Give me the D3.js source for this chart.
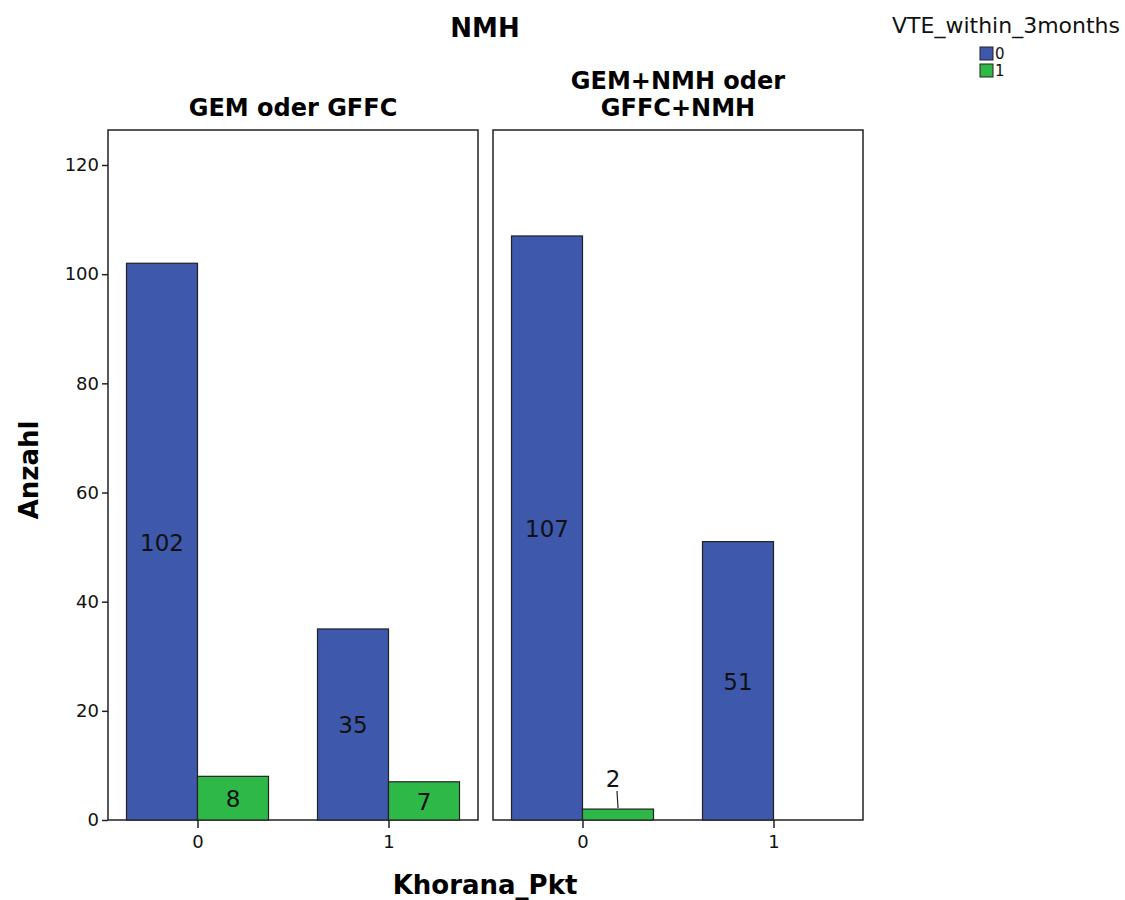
<!DOCTYPE html>
<html><head><meta charset="utf-8">
<script src="https://cdn.jsdelivr.net/npm/d3@7"></script>
<style>body{margin:0;background:#fff;} text{font-family:"DejaVu Sans",sans-serif;}</style>
</head><body>
<svg id="chart" width="1125" height="900"></svg>
<script>
const panels = [["GEM oder GFFC"], ["GEM+NMH oder", "GFFC+NMH"]];
const khorana = ["0", "1"];
const vteGroups = ["0", "1"];
// values[panel][khorana][vte]
const panel1Values = [[102, 8], [35, 7]];
const panel2Values = [[107, 2], [51, 0]];
const allValues = [panel1Values, panel2Values];
const yTicks = [0, 20, 40, 60, 80, 100, 120];
const colors = ["#3E58AC", "#2EB848"];

const svg = d3.select("#chart");
const plotTop = 130, plotBottom = 820;
const panelX = [108, 493], panelW = 370;

const y = d3.scaleLinear().domain([0, 120]).range([plotBottom, 165]);
const x = d3.scalePoint().domain(khorana).range([0, panelW]).padding(0.4686);
const barW = 71;

svg.append("text").attr("x", 485).attr("y", 37).attr("text-anchor", "middle")
  .attr("font-size", 26).attr("font-weight", "bold").text("NMH");

panels.forEach((lab, pi) => {
  const g = svg.append("g").attr("transform", `translate(${panelX[pi]},0)`);
  g.append("rect").attr("x", 0).attr("y", plotTop).attr("width", panelW).attr("height", plotBottom - plotTop)
    .attr("fill", "none").attr("stroke", "#222").attr("stroke-width", 1.5);
  const t = g.append("text").attr("x", panelW / 2).attr("text-anchor", "middle")
    .attr("font-size", 24).attr("font-weight", "bold");
  lab.forEach((l, i) => {
    t.append("tspan").attr("x", panelW / 2).attr("y", 116 - (lab.length - 1 - i) * 27).text(l);
  });
  const vals = allValues[pi];
  khorana.forEach((k, ki) => {
    vteGroups.forEach((v, vi) => {
      const val = vals[ki][vi];
      if (val === 0) return;
      const bx = x(k) + (vi === 0 ? -barW : 0);
      g.append("rect").attr("x", bx).attr("y", y(val)).attr("width", barW)
        .attr("height", y(0) - y(val)).attr("fill", colors[vi]).attr("stroke", "#222").attr("stroke-width", 1.2);
      const cx = bx + barW / 2;
      if (y(0) - y(val) > 20) {
        g.append("text").attr("x", cx).attr("y", (y(val) + y(0)) / 2 + 9).attr("text-anchor", "middle")
          .attr("font-size", 23).attr("fill", "#111").text(val);
      } else {
        g.append("line").attr("x1", cx).attr("x2", cx - 1).attr("y1", y(val) - 1).attr("y2", y(val) - 18)
          .attr("stroke", "#222").attr("stroke-width", 1.2);
        g.append("text").attr("x", cx - 5).attr("y", y(val) - 22).attr("text-anchor", "middle")
          .attr("font-size", 23).attr("fill", "#111").text(val);
      }
    });
  });
  const xa = g.append("g").attr("transform", `translate(0,${plotBottom})`)
    .call(d3.axisBottom(x).tickSize(8).tickSizeOuter(0));
  xa.select(".domain").remove();
  xa.selectAll("line").attr("stroke", "#222").attr("stroke-width", 1.5);
  xa.selectAll("text").attr("font-size", 18).attr("fill", "#111").attr("dy", "0.95em")
    .style("font-family", '"DejaVu Sans",sans-serif');
});

const ya = svg.append("g").attr("transform", `translate(${panelX[0]},0)`)
  .call(d3.axisLeft(y).tickValues(yTicks).tickSize(6).tickSizeOuter(0));
ya.select(".domain").remove();
ya.selectAll("line").attr("stroke", "#222").attr("stroke-width", 1.5);
ya.selectAll("text").attr("font-size", 18).attr("fill", "#111").style("font-family", '"DejaVu Sans",sans-serif');

svg.append("text").attr("transform", "translate(38,470) rotate(-90)").attr("text-anchor", "middle")
  .attr("font-size", 26).attr("font-weight", "bold").text("Anzahl");
svg.append("text").attr("x", 485).attr("y", 894).attr("text-anchor", "middle")
  .attr("font-size", 26).attr("font-weight", "bold").text("Khorana_Pkt");

svg.append("text").attr("x", 1120).attr("y", 33).attr("text-anchor", "end")
  .attr("font-size", 22).attr("fill", "#111").text("VTE_within_3months");
vteGroups.forEach((v, i) => {
  svg.append("rect").attr("x", 980).attr("y", 47 + i * 17).attr("width", 13).attr("height", 13)
    .attr("fill", colors[i]).attr("stroke", "#222").attr("stroke-width", 1);
  svg.append("text").attr("x", 995).attr("y", 59 + i * 17).attr("font-size", 15).attr("fill", "#111").text(v);
});
</script>
</body></html>
